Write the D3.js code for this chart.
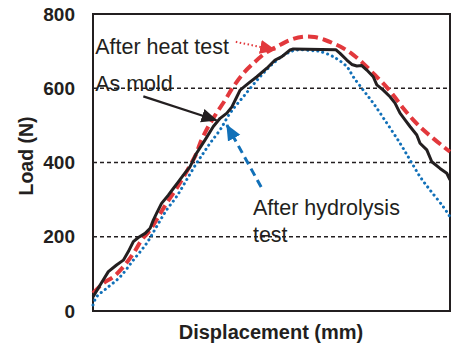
<!DOCTYPE html>
<html>
<head>
<meta charset="utf-8">
<script src="https://cdn.jsdelivr.net/npm/d3@7"></script>
<style>
  body { margin: 0; background: #fff; }
  svg { display: block; font-family: "Liberation Sans", Arial, sans-serif; }
</style>
</head>
<body>
<svg id="chart" width="451" height="344"></svg>
<script>
// load-displacement curves (displacement in arbitrary mm, 0..10 across the box)
const asMoldX = [0, 0.2, 0.43, 0.66, 0.85, 0.99, 1.13, 1.27, 1.46, 1.6, 1.69, 1.78, 1.92, 2.11, 2.25, 2.39, 2.53, 2.72, 2.9,
  3.14, 3.37, 3.56, 3.75, 3.89, 4.03, 4.12, 4.35, 4.59, 4.87, 5.1, 5.29, 5.52, 5.61, 6.8,
  6.92, 7.11, 7.25, 7.39, 7.53, 7.67, 7.85, 7.95, 8.13, 8.32, 8.46, 8.6, 8.74, 8.88, 9.07, 9.16, 9.35, 9.49, 9.72, 9.91, 10]
const asMoldY = [38, 70, 106, 124, 137, 160, 187, 198, 209, 223, 245, 263, 290, 312, 330, 348, 366, 389, 425,
  461, 497, 519, 533, 550, 577, 595, 613, 631, 654, 676, 685, 703, 706, 704,
  694, 676, 664, 660, 661, 649, 631, 609, 595, 577, 560, 533, 515, 497, 474, 452, 434, 402, 384, 371, 353]

const heatX = [0, 0.29, 0.57, 0.85, 1.13, 1.36, 1.6, 1.83, 2.06, 2.34, 2.62, 2.9, 3.0, 3.23, 3.46, 3.7, 3.93, 4.21, 4.49, 4.82,
  5.15, 5.52, 5.89, 6.2, 6.5, 6.73, 7.01, 7.29, 7.57, 7.85, 8.13, 8.41, 8.69, 8.97, 9.25, 9.53, 9.81, 10]
const heatY = [48, 75, 92, 119, 155, 191, 218, 254, 290, 330, 375, 425, 452, 497, 533, 568, 604, 640, 667, 694,
  712, 730, 739, 738, 730, 721, 708, 690, 667, 640, 613, 582, 546, 515, 488, 465, 443, 429]

const hydroX = [0, 0.1, 0.38, 0.76, 1.13, 1.5, 1.78, 2.06, 2.34, 2.62, 2.9, 3.09, 3.28, 3.56, 3.84, 4.21, 4.68, 5.05, 5.43, 5.71,
  6.17, 6.36, 6.73, 7.11, 7.29, 7.57, 7.85, 8.23, 8.6, 8.88, 9.16, 9.44, 9.81, 10]
const hydroY = [16, 38, 61, 92, 137, 182, 227, 272, 308, 353, 398, 425, 452, 488, 533, 577, 631, 667, 694, 703,
  701, 699, 685, 658, 631, 595, 560, 506, 452, 407, 362, 326, 281, 254]

const yTicks = [0, 200, 400, 600, 800]
const gridValues = [200, 400, 600]

// label / arrow anchors in data units
const labels = [
  { text: 'After heat test', x: 0.06, y: 691 },
  { text: 'As mold', x: 0.06, y: 593 },
  { text: 'After hydrolysis', x: 4.48, y: 259 },
  { text: 'test', x: 4.48, y: 186 }
]
const arrows = [
  { from: [4.0, 725], to: [5.1, 703], color: '#e2383c', dash: '1.5,2.5', width: 2, head: 'red' },
  { from: [1.41, 578], to: [3.46, 514], color: '#231f20', dash: null, width: 2.2, head: 'black' },
  { from: [4.71, 334], to: [3.75, 501], color: '#1170b8', dash: '8,5', width: 3, head: 'blue' }
]

const ink = '#231f20'
const svg = d3.select('#chart')
const x = d3.scaleLinear().domain([0, 10]).range([93, 450])
const y = d3.scaleLinear().domain([0, 800]).range([311, 14])

// arrow heads
const defs = svg.append('defs')
const headColors = { red: '#e2383c', black: ink, blue: '#1170b8' }
Object.entries(headColors).forEach(([k, c]) => {
  defs.append('marker')
    .attr('id', 'head-' + k)
    .attr('viewBox', '0 -8 16 16')
    .attr('refX', 15)
    .attr('refY', 0)
    .attr('markerUnits', 'userSpaceOnUse')
    .attr('markerWidth', 16)
    .attr('markerHeight', 16)
    .attr('orient', 'auto')
    .append('path')
    .attr('d', 'M0,-7L16,0L0,7Z')
    .attr('fill', c)
})

// dashed grid
svg.append('g').selectAll('line')
  .data(gridValues)
  .enter().append('line')
  .attr('x1', x(0)).attr('x2', x(10))
  .attr('y1', d => y(d)).attr('y2', d => y(d))
  .attr('stroke', ink)
  .attr('stroke-width', 1.3)
  .attr('stroke-dasharray', '4,3')

// plot box
svg.append('rect')
  .attr('x', x(0)).attr('y', y(800))
  .attr('width', x(10) - x(0)).attr('height', y(0) - y(800))
  .attr('fill', 'none')
  .attr('stroke', ink)
  .attr('stroke-width', 2)

// y axis tick labels
const yAxis = svg.append('g')
  .attr('transform', `translate(${x(0)},0)`)
  .call(d3.axisLeft(y).tickValues(yTicks).tickSize(0).tickPadding(18))
yAxis.select('.domain').remove()
yAxis.selectAll('text')
  .attr('font-family', '"Liberation Sans", Arial, sans-serif')
  .attr('font-size', 19)
  .attr('font-weight', 'bold')
  .attr('fill', ink)

const line = d3.line().x(d => x(d[0])).y(d => y(d[1]))
const zip = (xs, ys) => xs.map((v, i) => [v, ys[i]])

svg.append('path')
  .datum(zip(hydroX, hydroY))
  .attr('d', line.curve(d3.curveCatmullRom))
  .attr('fill', 'none')
  .attr('stroke', '#1170b8')
  .attr('stroke-width', 3)
  .attr('stroke-linecap', 'round')
  .attr('stroke-dasharray', '0.1,5')

svg.append('path')
  .datum(zip(heatX, heatY))
  .attr('d', line.curve(d3.curveCatmullRom))
  .attr('fill', 'none')
  .attr('stroke', '#e2383c')
  .attr('stroke-width', 4)
  .attr('stroke-dasharray', '10,5')

svg.append('path')
  .datum(zip(asMoldX, asMoldY))
  .attr('d', line.curve(d3.curveLinear))
  .attr('fill', 'none')
  .attr('stroke', ink)
  .attr('stroke-width', 3)
  .attr('stroke-linejoin', 'round')

// annotation text
svg.append('g').selectAll('text')
  .data(labels)
  .enter().append('text')
  .attr('x', d => x(d.x))
  .attr('y', d => y(d.y))
  .attr('font-size', 21.5)
  .attr('fill', ink)
  .text(d => d.text)

// annotation arrows
svg.append('g').selectAll('line')
  .data(arrows)
  .enter().append('line')
  .attr('x1', d => x(d.from[0])).attr('y1', d => y(d.from[1]))
  .attr('x2', d => x(d.to[0])).attr('y2', d => y(d.to[1]))
  .attr('stroke', d => d.color)
  .attr('stroke-width', d => d.width)
  .attr('stroke-dasharray', d => d.dash)
  .attr('marker-end', d => `url(#head-${d.head})`)

// axis titles
svg.append('text')
  .attr('transform', 'translate(33,156) rotate(-90)')
  .attr('text-anchor', 'middle')
  .attr('font-size', 19.5)
  .attr('font-weight', 'bold')
  .attr('fill', ink)
  .text('Load (N)')

svg.append('text')
  .attr('x', 271)
  .attr('y', 339)
  .attr('text-anchor', 'middle')
  .attr('font-size', 20)
  .attr('font-weight', 'bold')
  .attr('fill', ink)
  .text('Displacement (mm)')
</script>
</body>
</html>
